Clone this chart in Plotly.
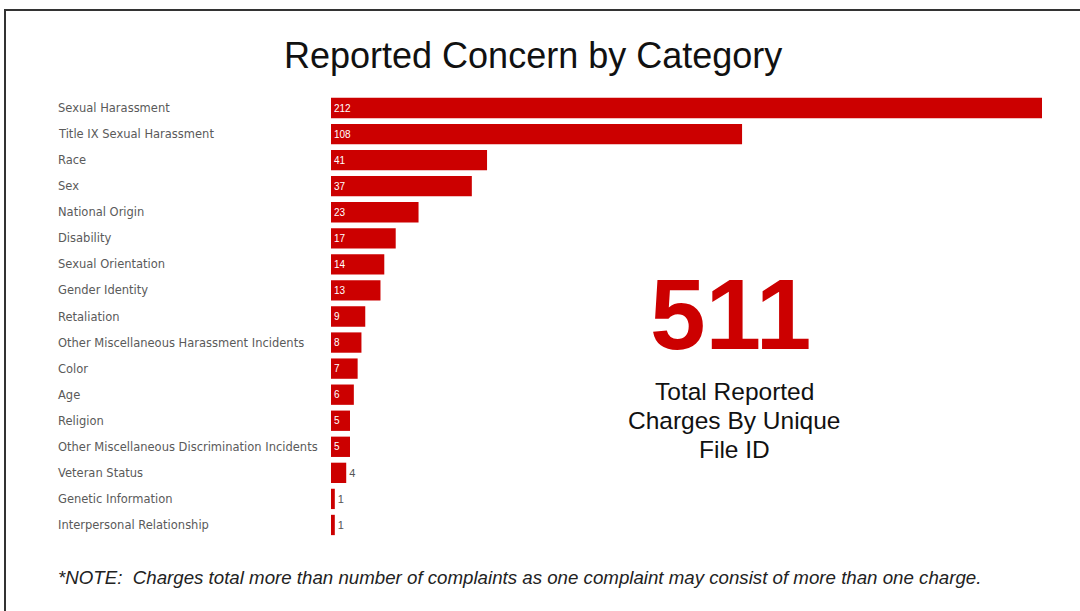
import plotly.graph_objects as go

categories = [
    "Sexual Harassment", "Title IX Sexual Harassment", "Race", "Sex",
    "National Origin", "Disability", "Sexual Orientation", "Gender Identity",
    "Retaliation", "Other Miscellaneous Harassment Incidents", "Color", "Age",
    "Religion", "Other Miscellaneous Discrimination Incidents", "Veteran Status",
    "Genetic Information", "Interpersonal Relationship",
]
values = [212, 108, 41, 37, 23, 17, 14, 13, 9, 8, 7, 6, 5, 5, 4, 1, 1]
total_label = "511"
caption_lines = ["Total Reported", "Charges By Unique", "File ID"]
title_text = "Reported Concern by Category"
note_text = "*NOTE:  Charges total more than number of complaints as one complaint may consist of more than one charge."

W, H = 1080, 611
ML, MR, MT, MB = 331, 38, 95, 73
PW = W - ML - MR
PH = H - MT - MB
RED = "#CC0000"

def px_x(p):
    return (p - ML) / PW

def px_y(p):
    return 1 - (p - MT) / PH

positions = ["inside" if v >= 5 else "outside" for v in values]

fig = go.Figure(go.Bar(
    x=values, y=categories, orientation="h",
    marker=dict(color=RED, line=dict(width=0)),
    width=0.78,
    text=[str(v) for v in values],
    textposition=positions,
    insidetextanchor="start",
    insidetextfont=dict(color="white", size=10, family="Liberation Sans"),
    outsidetextfont=dict(color="#555555", size=11, family="Liberation Sans"),
    cliponaxis=True,
    hoverinfo="x+y",
))

fig.update_layout(
    width=W, height=H,
    margin=dict(l=ML, r=MR, t=MT, b=MB, pad=0),
    paper_bgcolor="white", plot_bgcolor="white",
    showlegend=False,
    xaxis=dict(range=[0, 186.8], visible=False, fixedrange=True),
    yaxis=dict(categoryorder="array", categoryarray=categories,
               autorange="reversed", showticklabels=False, showgrid=False,
               zeroline=False, showline=False, ticks=""),
)

annotations = []
for c in categories:
    annotations.append(dict(
        x=px_x(56), xref="paper", y=c, yref="y",
        text=c, showarrow=False, xanchor="left", yanchor="middle",
        font=dict(size=11.5, color="#5a5a5a", family="DejaVu Sans"),
    ))

annotations.append(dict(
    x=px_x(533), xref="paper", y=px_y(55), yref="paper",
    text=title_text, showarrow=False, xanchor="center", yanchor="middle",
    font=dict(size=36, color="#111111", family="Liberation Sans"),
))
annotations.append(dict(
    x=px_x(730), xref="paper", y=px_y(314), yref="paper",
    text="<b>" + total_label + "</b>", showarrow=False, xanchor="center", yanchor="middle",
    font=dict(size=100, color=RED, family="Liberation Sans Narrow, Arial Narrow, Liberation Sans"),
))
for line, yp in zip(caption_lines, [391, 420, 449]):
    annotations.append(dict(
        x=px_x(734), xref="paper", y=px_y(yp), yref="paper",
        text=line, showarrow=False, xanchor="center", yanchor="middle",
        font=dict(size=24.5, color="#111111", family="Liberation Sans"),
    ))
annotations.append(dict(
    x=px_x(56), xref="paper", y=px_y(577), yref="paper",
    text="<i>" + note_text + "</i>", showarrow=False, xanchor="left", yanchor="middle",
    font=dict(size=18.7, color="#222222", family="Liberation Sans"),
))
fig.update_layout(annotations=annotations)

fig.add_shape(
    type="path", xref="paper", yref="paper",
    path=f"M {px_x(5)},{px_y(H + 5)} L {px_x(5)},{px_y(10)} L {px_x(W + 5)},{px_y(10)}",
    line=dict(color="#333333", width=2),
)

fig.write_html("out.html")
